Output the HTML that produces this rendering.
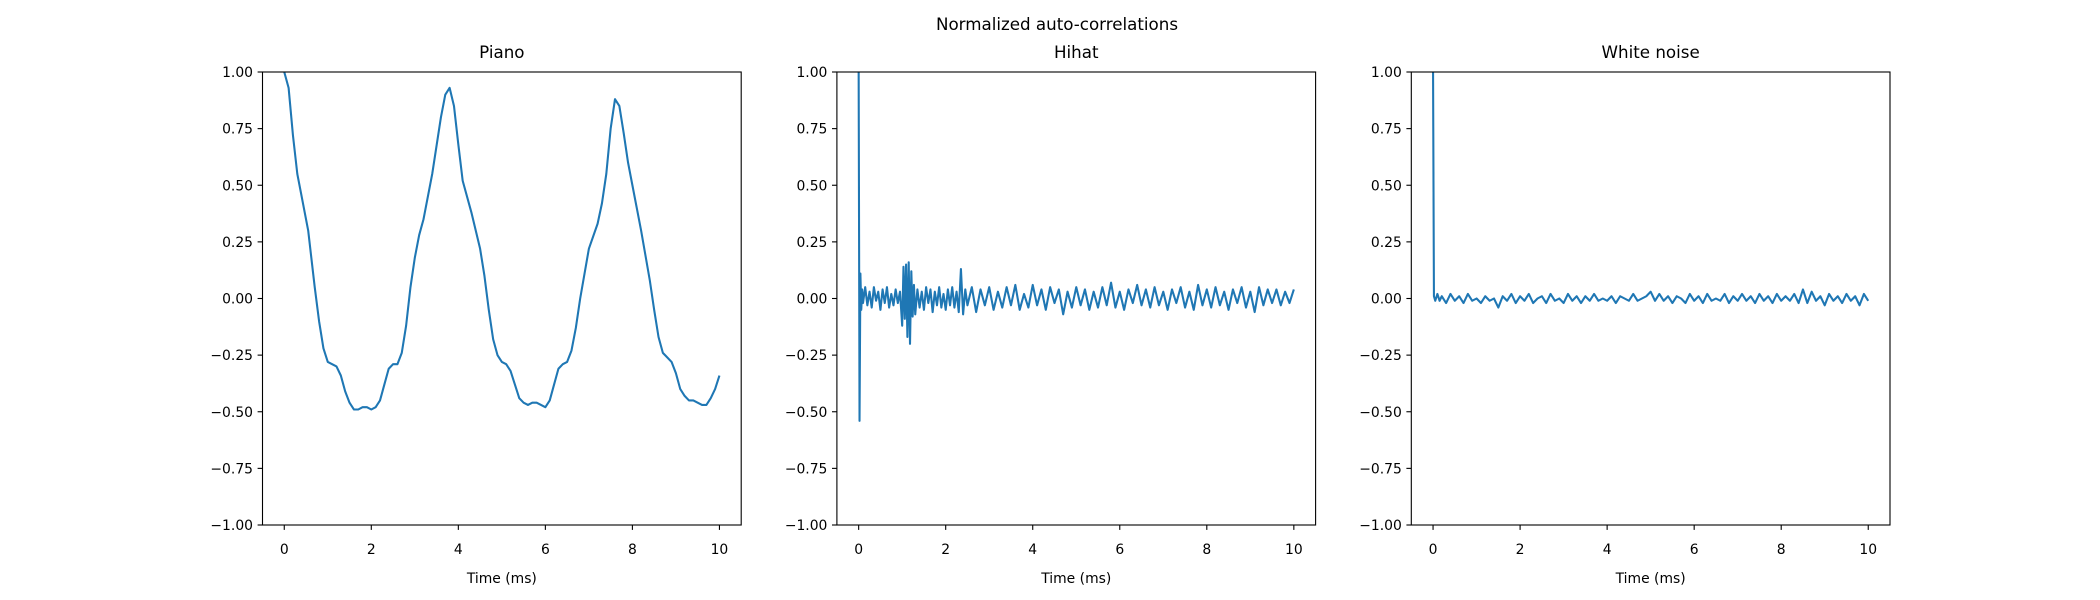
<!DOCTYPE html>
<html><head><meta charset="utf-8"><style>
html,body{margin:0;padding:0;background:#fff;}
svg{display:block;font-family:"DejaVu Sans","Liberation Sans",sans-serif;}
</style></head><body>
<svg id="fig" width="2100" height="600" viewBox="0 0 2100 600">
<rect width="2100" height="600" fill="#fff"/>
<text x="1057" y="30" font-size="16.7" text-anchor="middle">Normalized auto-correlations</text>
<g id="plots"></g>
</svg>
<script>
const pianoX=[0,0.1,0.2,0.3,0.4,0.55,0.7,0.8,0.9,1.0,1.1,1.2,1.3,1.4,1.5,1.6,1.7,1.8,1.9,2.0,2.1,2.2,2.3,2.4,2.5,2.6,2.7,2.8,2.9,3.0,3.1,3.2,3.4,3.6,3.7,3.8,3.9,4.0,4.1,4.3,4.5,4.6,4.7,4.8,4.9,5.0,5.1,5.2,5.3,5.4,5.5,5.6,5.7,5.8,5.9,6.0,6.1,6.2,6.3,6.4,6.5,6.6,6.7,6.8,7.0,7.2,7.3,7.4,7.5,7.6,7.7,7.8,7.9,8.0,8.2,8.4,8.5,8.6,8.7,8.8,8.9,9.0,9.1,9.2,9.3,9.4,9.5,9.6,9.7,9.8,9.9,10.0];
const pianoY=[1.0,0.93,0.72,0.55,0.45,0.30,0.05,-0.10,-0.22,-0.28,-0.29,-0.30,-0.34,-0.41,-0.46,-0.49,-0.49,-0.48,-0.48,-0.49,-0.48,-0.45,-0.38,-0.31,-0.29,-0.29,-0.24,-0.12,0.05,0.18,0.28,0.35,0.55,0.80,0.90,0.93,0.85,0.68,0.52,0.38,0.22,0.10,-0.05,-0.18,-0.25,-0.28,-0.29,-0.32,-0.38,-0.44,-0.46,-0.47,-0.46,-0.46,-0.47,-0.48,-0.45,-0.38,-0.31,-0.29,-0.28,-0.23,-0.13,0.00,0.22,0.33,0.42,0.55,0.75,0.88,0.85,0.73,0.60,0.50,0.30,0.08,-0.05,-0.17,-0.24,-0.26,-0.28,-0.33,-0.40,-0.43,-0.45,-0.45,-0.46,-0.47,-0.47,-0.44,-0.40,-0.34];
const hihatX=[0,0.02,0.04,0.06,0.08,0.1,0.15,0.2,0.25,0.3,0.35,0.4,0.45,0.5,0.55,0.6,0.65,0.7,0.75,0.8,0.85,0.9,0.95,1.0,1.03,1.06,1.09,1.12,1.15,1.18,1.21,1.24,1.27,1.3,1.35,1.4,1.45,1.5,1.55,1.6,1.65,1.7,1.75,1.8,1.85,1.9,1.95,2.0,2.05,2.1,2.15,2.2,2.25,2.3,2.35,2.4,2.45,2.5,2.6,2.7,2.8,2.9,3.0,3.1,3.2,3.3,3.4,3.5,3.6,3.7,3.8,3.9,4.0,4.1,4.2,4.3,4.4,4.5,4.6,4.7,4.8,4.9,5.0,5.1,5.2,5.3,5.4,5.5,5.6,5.7,5.8,5.9,6.0,6.1,6.2,6.3,6.4,6.5,6.6,6.7,6.8,6.9,7.0,7.1,7.2,7.3,7.4,7.5,7.6,7.7,7.8,7.9,8.0,8.1,8.2,8.3,8.4,8.5,8.6,8.7,8.8,8.9,9.0,9.1,9.2,9.3,9.4,9.5,9.6,9.7,9.8,9.9,10.0];
const hihatY=[1.0,-0.54,0.11,-0.05,0.04,-0.02,0.05,-0.03,0.03,-0.04,0.05,-0.01,0.03,-0.05,0.04,-0.02,0.05,-0.04,0.02,-0.03,0.04,-0.02,0.03,-0.12,0.14,-0.09,0.15,-0.17,0.16,-0.2,0.12,-0.08,0.06,-0.07,0.04,-0.04,0.03,-0.05,0.05,-0.02,0.04,-0.06,0.03,-0.03,0.05,-0.04,0.02,-0.05,0.04,-0.03,0.05,-0.04,0.03,-0.06,0.13,-0.07,0.04,-0.03,0.05,-0.06,0.04,-0.03,0.05,-0.05,0.03,-0.04,0.05,-0.03,0.06,-0.05,0.02,-0.04,0.06,-0.03,0.04,-0.05,0.05,-0.02,0.04,-0.07,0.03,-0.04,0.05,-0.03,0.04,-0.05,0.03,-0.04,0.05,-0.03,0.07,-0.04,0.03,-0.05,0.04,-0.02,0.06,-0.03,0.04,-0.04,0.05,-0.03,0.03,-0.05,0.04,-0.02,0.05,-0.04,0.03,-0.05,0.06,-0.03,0.04,-0.04,0.05,-0.03,0.03,-0.05,0.04,-0.02,0.05,-0.04,0.03,-0.06,0.05,-0.03,0.04,-0.02,0.04,-0.03,0.03,-0.02,0.04,-0.03,0.02];
const noiseX=[0,0.02,0.05,0.1,0.15,0.2,0.3,0.4,0.5,0.6,0.7,0.8,0.9,1.0,1.1,1.2,1.3,1.4,1.5,1.6,1.7,1.8,1.9,2.0,2.1,2.2,2.3,2.4,2.5,2.6,2.7,2.8,2.9,3.0,3.1,3.2,3.3,3.4,3.5,3.6,3.7,3.8,3.9,4.0,4.1,4.2,4.3,4.4,4.5,4.6,4.7,4.8,4.9,5.0,5.1,5.2,5.3,5.4,5.5,5.6,5.7,5.8,5.9,6.0,6.1,6.2,6.3,6.4,6.5,6.6,6.7,6.8,6.9,7.0,7.1,7.2,7.3,7.4,7.5,7.6,7.7,7.8,7.9,8.0,8.1,8.2,8.3,8.4,8.5,8.6,8.7,8.8,8.9,9.0,9.1,9.2,9.3,9.4,9.5,9.6,9.7,9.8,9.9,10.0];
const noiseY=[1.0,0.01,-0.01,0.02,-0.01,0.01,-0.02,0.02,-0.01,0.01,-0.02,0.02,-0.01,0.0,-0.02,0.01,-0.01,0.0,-0.04,0.01,-0.01,0.02,-0.02,0.01,-0.01,0.02,-0.02,0.0,0.01,-0.02,0.02,-0.01,0.0,-0.02,0.02,-0.01,0.01,-0.02,0.01,-0.01,0.02,-0.01,0.0,-0.01,0.01,-0.02,0.01,0.0,-0.01,0.02,-0.01,0.0,0.01,0.03,-0.01,0.02,-0.01,0.01,-0.02,0.01,0.0,-0.02,0.02,-0.01,0.01,-0.02,0.02,-0.01,0.0,-0.01,0.02,-0.02,0.01,-0.01,0.02,-0.01,0.01,-0.02,0.02,-0.01,0.01,-0.02,0.02,-0.01,0.01,-0.01,0.02,-0.02,0.04,-0.02,0.03,-0.01,0.01,-0.03,0.02,-0.01,0.01,-0.02,0.02,-0.01,0.01,-0.03,0.02,-0.01];
const xTicks=[0,2,4,6,8,10];
const yTicks=[-1,-0.75,-0.5,-0.25,0,0.25,0.5,0.75,1];
const yTickLabels=["\u22121.00","\u22120.75","\u22120.50","\u22120.25","0.00","0.25","0.50","0.75","1.00"];

const NS='http://www.w3.org/2000/svg';
const plotRoot=document.getElementById('plots');
function mk(tag,attrs,parent){const e=document.createElementNS(NS,tag);for(const k in attrs)e.setAttribute(k,attrs[k]);parent.appendChild(e);return e;}
const axTop=72,axBot=525,axW=478.7;
const panels=[{l:262.5,title:'Piano',key:'piano',x:pianoX,y:pianoY},{l:836.9,title:'Hihat',key:'hihat',x:hihatX,y:hihatY},{l:1411.3,title:'White noise',key:'white-noise',x:noiseX,y:noiseY}];
panels.forEach((p,i)=>{
  const sx=v=>p.l+(v+0.5)/11*axW;
  const sy=v=>axBot-(v+1)/2*(axBot-axTop);
  const g=mk('g',{},plotRoot);
  
  
  const cp=mk('clipPath',{id:'cp'+i},g);
  mk('rect',{x:p.l,y:axTop,width:axW,height:axBot-axTop},cp);
  let d='';
  const n=Math.min(p.x.length,p.y.length);
  for(let j=0;j<n;j++){d+=(j?'L':'M')+sx(p.x[j]).toFixed(2)+','+sy(p.y[j]).toFixed(2);}
  const line=mk('path',{d:d,fill:'none',stroke:'#1f77b4','stroke-width':2.08,'stroke-linejoin':'round','clip-path':'url(#cp'+i+')'},g);
  
  
  const fr=mk('rect',{x:p.l,y:axTop,width:axW,height:axBot-axTop,fill:'none',stroke:'#000','stroke-width':1.1},g);
  
  
  xTicks.forEach(t=>{
    const x=sx(t);
    mk('line',{x1:x,x2:x,y1:axBot,y2:axBot+4.9,stroke:'#000','stroke-width':1.1},g);
    const tx=mk('text',{x:x,y:554,'font-size':13.9,'text-anchor':'middle'},g);
    tx.textContent=String(t);
    
    
  });
  yTicks.forEach((t,k)=>{
    const y=sy(t);
    mk('line',{x1:p.l-4.9,x2:p.l,y1:y,y2:y,stroke:'#000','stroke-width':1.1},g);
    const tx=mk('text',{x:p.l-9.5,y:y+5,'font-size':13.9,'text-anchor':'end'},g);
    tx.textContent=yTickLabels[k];
    
    
  });
  const xl=mk('text',{x:p.l+axW/2,y:583,'font-size':13.9,'text-anchor':'middle'},g);
  xl.textContent='Time (ms)';
  
  
  const ti=mk('text',{x:p.l+axW/2,y:58,'font-size':16.7,'text-anchor':'middle'},g);
  ti.textContent=p.title;
  
  
});
</script>
</body></html>
